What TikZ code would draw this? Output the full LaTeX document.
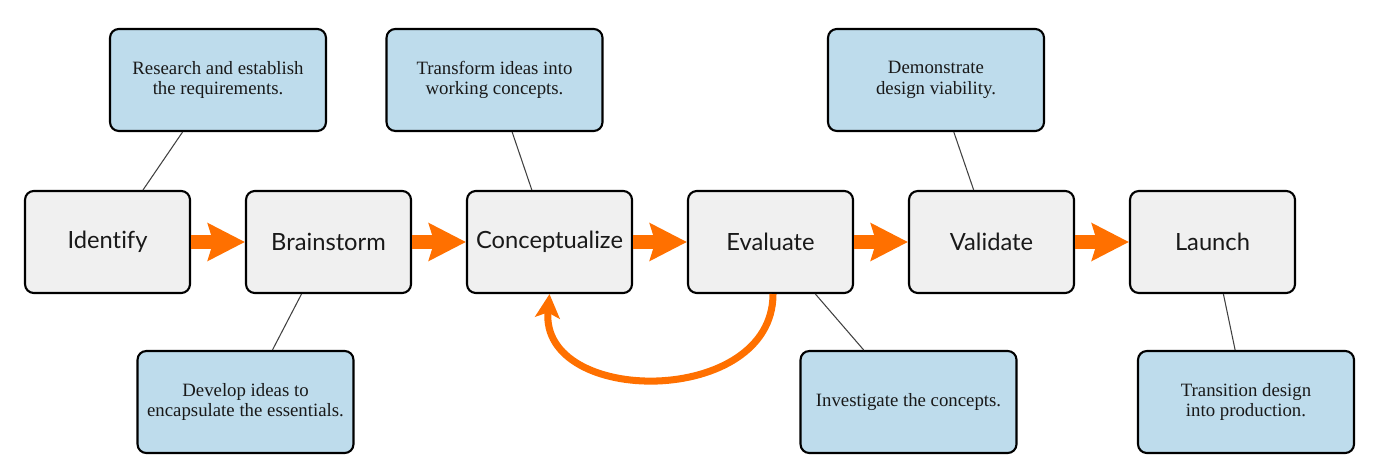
\documentclass[tikz,border=0pt]{standalone}
\usepackage{fontspec}
\setmainfont{Liberation Serif}
\newfontfamily\latofont[Ligatures=NoCommon]{Lato}
\usetikzlibrary{arrows.meta}
\definecolor{flowc}{RGB}{255,112,0}
\definecolor{stagefill}{RGB}{240,240,240}
\definecolor{descfill}{RGB}{190,220,236}
\begin{document}
\begin{tikzpicture}[x=0.02cm,y=-0.02cm,
  stage/.style={draw=black, line width=1.2pt, rounded corners=5pt, fill=stagefill,
    minimum width=3.3cm, minimum height=2.04cm, inner sep=0pt,
    font=\latofont\fontsize{13.5}{16}\selectfont, text=black!90},
  desc/.style={draw=black, line width=1.2pt, rounded corners=5pt, fill=descfill,
    minimum width=4.32cm, minimum height=2.04cm, inner sep=0pt, align=center,
    font=\fontsize{10.7}{11.8}\selectfont, text=black!90},
  link/.style={draw=black!75, line width=0.6pt},
  flow/.style={draw=flowc, line width=7.4pt, -{Stealth[length=21pt,width=21pt,inset=3pt]}},
  back/.style={draw=flowc, line width=4pt, -{Stealth[length=13.5pt,width=14pt,inset=3pt]}}
]
\useasboundingbox (0,0) rectangle (1375,476);
% descriptions
\node[desc] (d1) at (218,80) {Research and establish\\the requirements.};
\node[desc] (d2) at (494.5,80) {Transform ideas into\\working concepts.};
\node[desc] (d3) at (936,80) {Demonstrate\\design viability.};
\node[desc] (d4) at (245.5,402) {Develop ideas to\\encapsulate the essentials.};
\node[desc] (d5) at (908.5,402) {Investigate the concepts.};
\node[desc] (d6) at (1246,402) {Transition design\\into production.};
% stages
\node[stage] (identify) at (107.5,242) {Identify};
\node[stage] (brainstorm) at (328.5,242) {Brainstorm};
\node[stage] (concept) at (549.5,242) {Conceptualize};
\node[stage] (evaluate) at (770.5,242) {Evaluate};
\node[stage] (validate) at (991.5,242) {Validate};
\node[stage] (launch) at (1212.5,242) {Launch};
% links
\draw[link] (identify) -- (d1);
\draw[link] (concept) -- (d2);
\draw[link] (validate) -- (d3);
\draw[link] (brainstorm) -- (d4);
\draw[link] (evaluate) -- (d5);
\draw[link] (launch) -- (d6);
% flow arrows
\draw[flow] (identify) -- (brainstorm);
\draw[flow] (brainstorm) -- (concept);
\draw[flow] (concept) -- (evaluate);
\draw[flow] (evaluate) -- (validate);
\draw[flow] (validate) -- (launch);
% feedback
\draw[back] ([xshift=0.05cm]evaluate.south) to[out=-90,in=-95,looseness=1.3] (concept.south);
\end{tikzpicture}
\end{document}
